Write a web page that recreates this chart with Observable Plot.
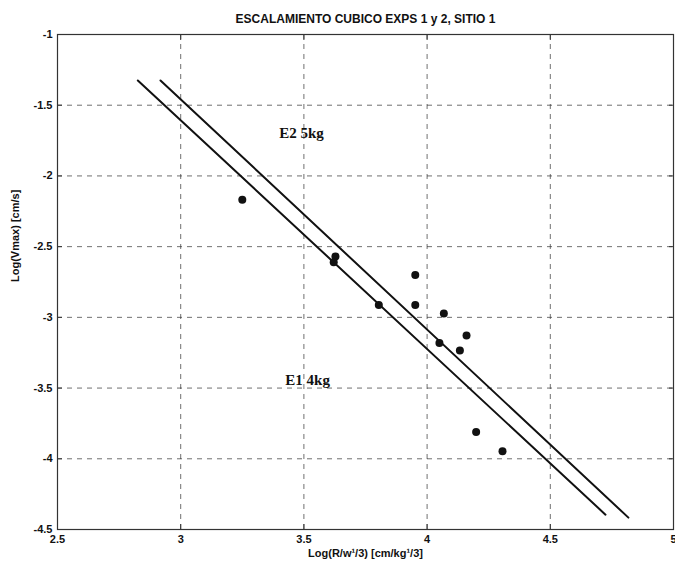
<!DOCTYPE html>
<html>
<head>
<meta charset="utf-8">
<script src="https://cdn.jsdelivr.net/npm/d3@7"></script>
<script src="https://cdn.jsdelivr.net/npm/@observablehq/plot@0.6"></script>
<style>
  html, body { margin: 0; padding: 0; background: #fff; }
  #chart svg { display: block; }
</style>
</head>
<body>
<div id="chart"></div>
<script>
// Measured pairs: log of scaled distance vs log of peak velocity
const logR = [3.25, 3.628, 3.621, 3.804, 3.952, 3.952, 4.068, 4.050, 4.133, 4.160, 4.199, 4.306];
const logV = [-2.169, -2.570, -2.610, -2.912, -2.700, -2.912, -2.973, -3.181, -3.235, -3.129, -3.810, -3.947];

// Cube-root scaling fits for each experiment (end points)
const e1X = [2.826, 4.724];
const e1Y = [-1.325, -4.395];
const e2X = [2.918, 4.817];
const e2Y = [-1.325, -4.416];

// Series labels
const seriesNames = ["E2 5kg", "E1 4kg"];
const seriesLabelX = [3.49, 3.515];
const seriesLabelY = [-1.70, -3.447];

// Axis ticks
const xTicks = [2.5, 3, 3.5, 4, 4.5, 5];
const yTicks = [-1, -1.5, -2, -2.5, -3, -3.5, -4, -4.5];

const title = "ESCALAMIENTO CUBICO EXPS 1 y 2, SITIO 1";
const xLabel = "Log(R/w\u00B9/3) [cm/kg\u00B9/3]";
const yLabel = "Log(Vmax) [cm/s]";

const points = logR.map((x, i) => ({x, y: logV[i]}));
const fit1 = e1X.map((x, i) => ({x, y: e1Y[i]}));
const fit2 = e2X.map((x, i) => ({x, y: e2Y[i]}));
const labels = seriesNames.map((t, i) => ({t, x: seriesLabelX[i], y: seriesLabelY[i]}));

const sans = "'Liberation Sans', Arial, sans-serif";
const fmt = d => String(d);

const chart = Plot.plot({
  width: 675,
  height: 565,
  marginLeft: 57,
  marginRight: 2,
  marginTop: 34,
  marginBottom: 36,
  style: {fontFamily: sans, fontSize: "11px", fontWeight: "bold", color: "#111", background: "#fff"},
  x: {domain: [2.5, 5]},
  y: {domain: [-4.5, -1]},
  marks: [
    Plot.gridX(xTicks.slice(1, -1), {stroke: "#333", strokeOpacity: 0.7, strokeDasharray: "5,5", strokeWidth: 1}),
    Plot.gridY(yTicks.slice(1, -1), {stroke: "#333", strokeOpacity: 0.7, strokeDasharray: "5,5", strokeWidth: 1}),
    Plot.axisX(xTicks, {anchor: "bottom", tickSize: -5, tickPadding: 11, tickFormat: fmt, label: null, stroke: "#333"}),
    Plot.axisX(xTicks, {anchor: "top", tickSize: -5, tickFormat: () => "", label: null, stroke: "#333"}),
    Plot.axisY(yTicks, {anchor: "left", tickSize: -5, tickPadding: 10, tickFormat: fmt, label: null, stroke: "#333"}),
    Plot.axisY(yTicks, {anchor: "right", tickSize: -5, tickFormat: () => "", label: null, stroke: "#333"}),
    Plot.frame({stroke: "#333", strokeWidth: 1.2}),
    Plot.line(fit1, {x: "x", y: "y", stroke: "#111", strokeWidth: 2}),
    Plot.line(fit2, {x: "x", y: "y", stroke: "#111", strokeWidth: 2}),
    Plot.dot(points, {x: "x", y: "y", r: 4, fill: "#111", stroke: "none"}),
    Plot.text(labels, {x: "x", y: "y", text: "t", fontFamily: "'Liberation Serif', 'Times New Roman', serif", fontWeight: "bold", fontSize: 15, fill: "#111"}),
    Plot.text([title], {frameAnchor: "top", dy: -20, fontSize: 12, fill: "#111"}),
    Plot.text([xLabel], {frameAnchor: "bottom", dy: 27, fontSize: 11, fill: "#111"}),
    Plot.text([yLabel], {frameAnchor: "left", dx: -42, rotate: -90, fontSize: 11, fill: "#111"})
  ]
});

document.getElementById("chart").appendChild(chart);
</script>
</body>
</html>
